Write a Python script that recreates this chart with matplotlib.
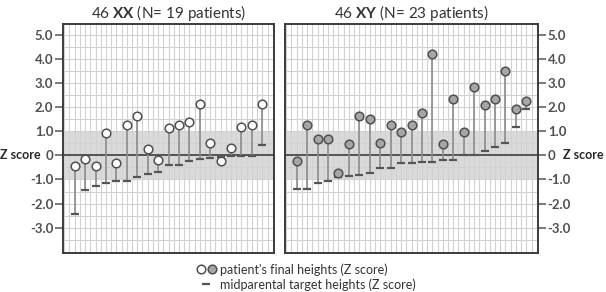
import numpy as np
import matplotlib
matplotlib.use('Agg')
import matplotlib.pyplot as plt
from matplotlib.lines import Line2D
from matplotlib.legend_handler import HandlerTuple
from matplotlib.ticker import MultipleLocator

plt.rcParams['font.family'] = ['Lato', 'DejaVu Sans']
plt.rcParams['mathtext.fontset'] = 'custom'
plt.rcParams['mathtext.rm'] = 'Lato'
plt.rcParams['mathtext.bf'] = 'Lato:bold'

# Data ------------------------------------------
xx_final = [-0.45, -0.15, -0.43, 0.93, -0.33, 1.26, 1.65, 0.28, -0.18, 1.12,
            1.26, 1.37, 2.12, 0.51, -0.22, 0.30, 1.18, 1.26, 2.12]
xx_target = [-2.42, -1.44, -1.27, -1.16, -1.07, -1.07, -0.90, -0.77, -0.69, -0.40,
             -0.40, -0.25, -0.17, -0.11, -0.08, -0.04, -0.04, -0.04, 0.44]
xy_final = [-0.22, 1.26, 0.69, 0.69, -0.72, 0.48, 1.63, 1.52, 0.53, 1.26, 0.97, 1.28,
            1.74, 4.19, 0.46, 2.34, 0.98, 2.85, 2.09, 2.34, 3.49, 1.94, 2.25]
xy_target = [-1.40, -1.41, -1.15, -1.07, -0.88, -0.87, -0.80, -0.73, -0.51, -0.51, -0.33, -0.33,
             -0.26, -0.26, -0.20, -0.20, 0.00, 0.00, 0.17, 0.36, 0.50, 1.16, 1.91]
titles = [r'46 $\mathbf{XX}$ (N= 19 patients)', r'46 $\mathbf{XY}$ (N= 23 patients)']
y_ticks = [-3, -2, -1, 0, 1, 2, 3, 4, 5]
y_ticklabels = ['-3.0', '-2.0', '-1.0', '0', '1.0', '2.0', '3.0', '4.0', '5.0']
legend_labels = ["patient's final heights (Z score)", 'midparental target heights (Z score)']
# -----------------------------------------------

DARK = '#4a4a4a'
STEM = '#8c8c8c'
face_colors = ['white', '#a6a6a6']

fig = plt.figure(figsize=(6.06, 2.92), dpi=100)
ax_l = fig.add_axes([63/606, 1-253/292, 211/606, 229/292])
ax_r = fig.add_axes([285/606, 1-253/292, 253/606, 229/292])

panels = [(ax_l, xx_final, xx_target), (ax_r, xy_final, xy_target)]
for k, (ax, final, target) in enumerate(panels):
	x = np.arange(len(final))
	ax.set_xlim(-1.12, len(final) - 1 + 1.12)
	ax.set_ylim(-4.05, 5.45)
	ax.axhspan(-1, 1, color='#dadada', zorder=0.2, lw=0)
	ax.xaxis.set_major_locator(MultipleLocator(0.5))
	ax.yaxis.set_major_locator(MultipleLocator(0.5))
	ax.grid(True, color='#d2d2d2', lw=0.8)
	ax.set_axisbelow(True)
	ax.axhline(0, color=DARK, lw=1.3, zorder=1)
	ax.vlines(x, target, final, color=STEM, lw=1.2, zorder=2)
	ax.plot(x, target, ls='none', marker='_', ms=6, mew=1.6, color='#555555', zorder=3)
	ax.plot(x, final, ls='none', marker='o', ms=6.2, mfc=face_colors[k], mec='#505050', mew=1.1, zorder=4)
	ax.tick_params(axis='x', which='both', length=0, labelbottom=False)
	for s in ax.spines.values():
		s.set_color('#3c3c3c')
		s.set_linewidth(1.4)
	ax.set_title(titles[k], fontsize=11, color='#333333', pad=4)

# y ticks on outer sides only
for ax, side in [(ax_l, 'left'), (ax_r, 'right')]:
	ax.yaxis.set_ticks_position(side)
	ax.yaxis.set_tick_params(which='both', length=0)
	sec = ax.secondary_yaxis(side)
	sec.set_yticks(y_ticks)
	sec.set_yticklabels(y_ticklabels)
	sec.tick_params(length=6, width=1.1, color='#555555', pad=1, labelsize=9.5, labelcolor='#505050')
	for lab in sec.get_yticklabels():
		lab.set_fontweight('bold')
	sec.spines[side].set_visible(False)
ax_l.set_yticklabels([])
ax_r.set_yticklabels([])

ax_l.text(-0.104, 0, 'Z score', transform=ax_l.get_yaxis_transform(), ha='right', va='center',
	fontsize=9, fontweight='bold', color='#2a2a2a')
ax_r.text(1.098, 0, 'Z score', transform=ax_r.get_yaxis_transform(), ha='left', va='center',
	fontsize=9, fontweight='bold', color='#2a2a2a')

# Legend ----------------------------------------
c1 = Line2D([], [], ls='none', marker='o', ms=6.2, mfc=face_colors[0], mec='#505050', mew=1.1)
c2 = Line2D([], [], ls='none', marker='o', ms=6.2, mfc=face_colors[1], mec='#505050', mew=1.1)
dash = Line2D([], [], ls='none', marker='_', ms=6, mew=1.6, color='#555555')
fig.legend([(c1, c2), dash], legend_labels, handler_map={tuple: HandlerTuple(ndivide=None, pad=0.1)},
	loc='upper left', bbox_to_anchor=(190/606, 1-257/292), frameon=False, fontsize=9,
	handlelength=1.6, handletextpad=0.3, labelspacing=0.2, borderpad=0, labelcolor='#333333')

fig.savefig('out.png', dpi=100)
